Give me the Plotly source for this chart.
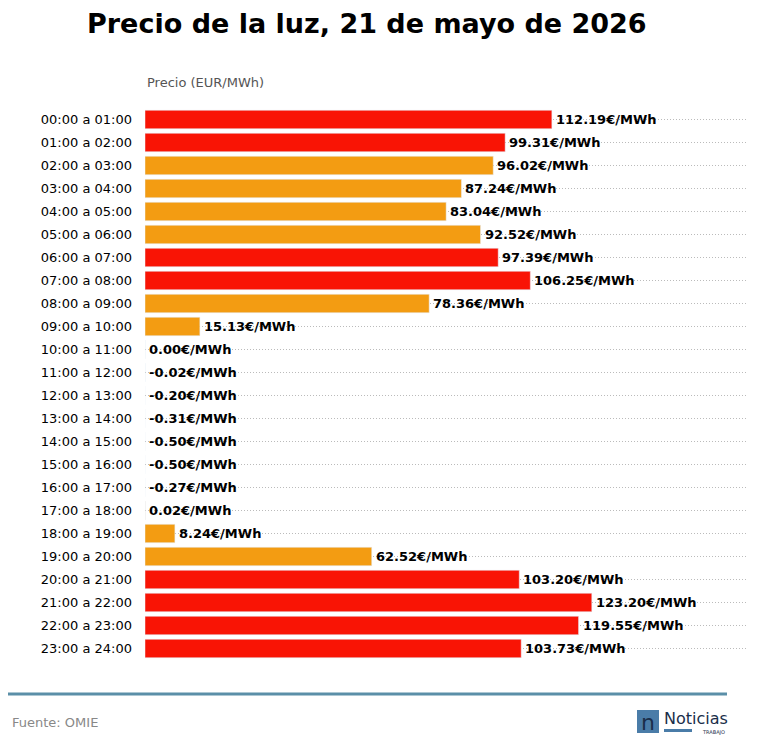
import plotly.graph_objects as go

horas = ["00:00 a 01:00", "01:00 a 02:00", "02:00 a 03:00", "03:00 a 04:00", "04:00 a 05:00",
         "05:00 a 06:00", "06:00 a 07:00", "07:00 a 08:00", "08:00 a 09:00", "09:00 a 10:00",
         "10:00 a 11:00", "11:00 a 12:00", "12:00 a 13:00", "13:00 a 14:00", "14:00 a 15:00",
         "15:00 a 16:00", "16:00 a 17:00", "17:00 a 18:00", "18:00 a 19:00", "19:00 a 20:00",
         "20:00 a 21:00", "21:00 a 22:00", "22:00 a 23:00", "23:00 a 24:00"]
precios = [112.19, 99.31, 96.02, 87.24, 83.04, 92.52, 97.39, 106.25, 78.36, 15.13,
           0.00, -0.02, -0.20, -0.31, -0.50, -0.50, -0.27, 0.02, 8.24, 62.52,
           103.20, 123.20, 119.55, 103.73]

RED = "#f91405"
ORANGE = "#f39c12"
colores = [RED if p > 97 else ORANGE for p in precios]

# the page adds an 8px body margin, so the figure is 16px smaller
OFF = 8
W, H = 758 - 2 * OFF, 755 - 2 * OFF
L, R, T, B = 145 - OFF, 11 - OFF, 108 - OFF, 95 - OFF
pw, ph = W - L - R, H - T - B

fig = go.Figure(go.Bar(x=precios, y=horas, orientation="h", marker_color=colores,
                       width=0.8, hoverinfo="skip"))

for h, p in zip(horas, precios):
    fig.add_annotation(x=max(p, 0), y=h, text=f"<b>{p:.2f}€/MWh</b>", showarrow=False,
                       xanchor="left", xshift=2, font=dict(size=13, color="black"))


def paper(x, y):
    # reference pixel coords -> paper coords
    return (x - OFF - L) / pw, (H - B - (y - OFF)) / ph


x0, y0 = paper(8, 694)
x1, _ = paper(727, 694)
fig.add_shape(type="line", xref="paper", yref="paper", x0=x0, x1=x1, y0=y0, y1=y0,
              line=dict(color="#5b8fa8", width=3))
# logo
a0, b0 = paper(637, 710)
a1, b1 = paper(659, 733)
fig.add_shape(type="rect", xref="paper", yref="paper", x0=a0, x1=a1, y0=b1, y1=b0,
              fillcolor="#4a7ca8", line=dict(width=0))
a0, b0 = paper(664, 729)
a1, b1 = paper(692, 732)
fig.add_shape(type="rect", xref="paper", yref="paper", x0=a0, x1=a1, y0=b1, y1=b0,
              fillcolor="#4a7ca8", line=dict(width=0))


def ann(x, y, text, **kw):
    ax, ay = paper(x, y)
    fig.add_annotation(xref="paper", yref="paper", x=ax, y=ay, text=text, showarrow=False, **kw)


ann(648, 722, "n", font=dict(size=22, color="#1a2e4a"), xanchor="center", yanchor="middle")
ann(662, 718, "Noticias", font=dict(size=16, color="#1a2e4a"), xanchor="left", yanchor="middle")
ann(727, 732, "TRABAJO", font=dict(size=5, color="#1a2e4a"), xanchor="right", yanchor="middle")
ann(10, 722, "Fuente: OMIE", font=dict(size=13, color="#888888"), xanchor="left", yanchor="middle")
ann(145, 82, "Precio (EUR/MWh)", font=dict(size=13, color="#555555"), xanchor="left", yanchor="middle")
ann(367, 23, "<b>Precio de la luz, 21 de mayo de 2026</b>", font=dict(size=27, color="black"),
    xanchor="center", yanchor="middle")

fig.update_layout(
    width=W, height=H, margin=dict(l=L, r=R, t=T, b=B),
    paper_bgcolor="white", plot_bgcolor="white",
    font=dict(family="DejaVu Sans", color="black"),
    showlegend=False,
    xaxis=dict(range=[0, 166], visible=False, fixedrange=True),
    yaxis=dict(autorange="reversed", showgrid=True, gridcolor="#bbbbbb", griddash="1px,2px",
               gridwidth=1, ticks="", tickfont=dict(size=13), ticklabelstandoff=12,
               showline=False, zeroline=False),
    bargap=0.2,
)

fig.write_html("out.html")
